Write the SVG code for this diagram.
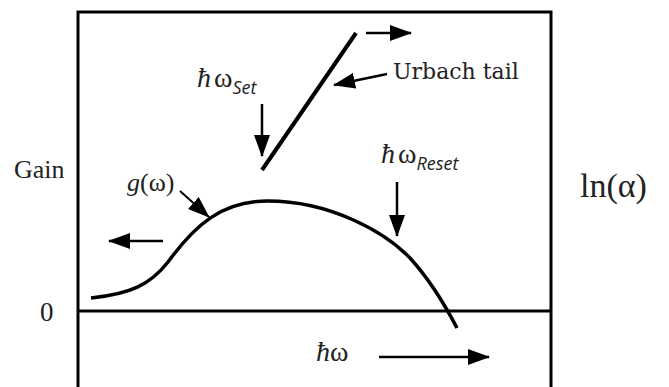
<svg xmlns="http://www.w3.org/2000/svg" width="669" height="387" viewBox="0 0 669 387">
<style>
.ln{stroke:#000;fill:none}
.t{font-family:"Liberation Serif",serif;fill:#222}
.d{font-family:"DejaVu Serif","Liberation Serif",serif;fill:#222}
.s{font-family:"Open Sans","DejaVu Sans",sans-serif;font-style:italic;fill:#222}
</style>
<defs>
<marker id="ahb" markerWidth="22" markerHeight="16" refX="21" refY="8" orient="auto" markerUnits="userSpaceOnUse"><path d="M0,0 L22,8 L0,16 Z" fill="#000"/></marker>
</defs>
<g id="frame">
<path class="ln" stroke-width="3" d="M78,390 V12 H551 V390"/>
<line class="ln" stroke-width="3" x1="78" y1="311" x2="551" y2="311"/>
</g>
<g id="gain-curve">
<path class="ln" stroke-width="3.5" d="M91,298 C130,294 150,285 168,262 C195,225 222,201 268,201 C330,201 385,232 410,258 C430,280 445,305 457,328"/>
</g>
<g id="urbach-line">
<line class="ln" stroke-width="4" x1="262" y1="170" x2="356" y2="33"/>
</g>
<g id="labels">
<text class="t" x="14" y="178" font-size="26">Gain</text>
<text class="t" x="40" y="321" font-size="27">0</text>
<text class="t" x="580" y="197" font-size="34">ln(α)</text>
<text class="t" x="127" y="191" font-size="26"><tspan font-style="italic">g</tspan>(ω)</text>
<text class="t" x="197" y="87" font-size="28"><tspan font-style="italic">ħ</tspan><tspan dx="3">ω</tspan><tspan class="s" font-size="18" dy="7">Set</tspan></text>
<text class="t" x="381" y="163" font-size="28"><tspan font-style="italic">ħ</tspan><tspan dx="3">ω</tspan><tspan class="s" font-size="18" dy="7">Reset</tspan></text>
<text class="d" x="393" y="79" font-size="22">Urbach tail</text>
<text class="t" x="316" y="361" font-size="28"><tspan font-style="italic">ħ</tspan>ω</text>
</g>
<g id="connectors">
<line class="ln" stroke-width="2.5" x1="366" y1="33" x2="411" y2="33" marker-end="url(#ahb)"/>
<line class="ln" stroke-width="2.5" x1="387" y1="74" x2="334" y2="85" marker-end="url(#ahb)"/>
<line class="ln" stroke-width="2.5" x1="262" y1="104" x2="262" y2="156" marker-end="url(#ahb)"/>
<line class="ln" stroke-width="2.5" x1="397" y1="182" x2="397" y2="236" marker-end="url(#ahb)"/>
<line class="ln" stroke-width="2" x1="180" y1="191" x2="209" y2="217" marker-end="url(#ahb)"/>
<line class="ln" stroke-width="2.5" x1="163" y1="241" x2="109" y2="241" marker-end="url(#ahb)"/>
<line class="ln" stroke-width="2.5" x1="379" y1="357" x2="489" y2="357" marker-end="url(#ahb)"/>
</g>
</svg>
